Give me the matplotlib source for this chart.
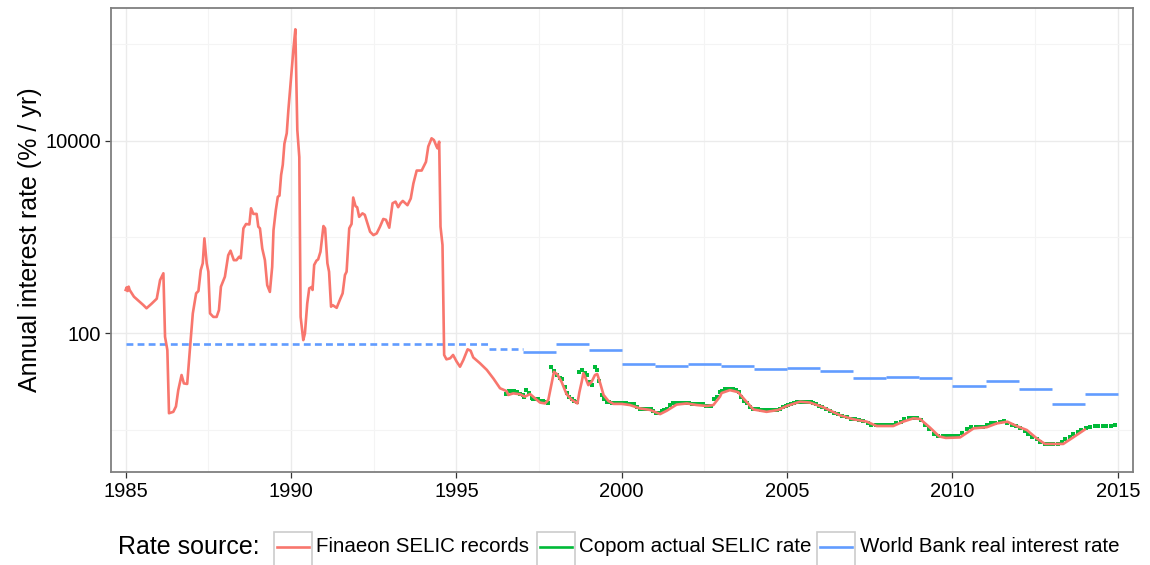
import matplotlib
matplotlib.use("Agg")
import matplotlib.pyplot as plt
from matplotlib.lines import Line2D
from matplotlib.patches import Rectangle
from matplotlib.ticker import FixedLocator, NullFormatter

plt.rcParams['font.family'] = ['Liberation Sans', 'DejaVu Sans']

# Finaeon SELIC records (decimal year, % per year)
finaeon_t = [1985.00, 1985.03, 1985.06, 1985.09, 1985.12, 1985.25, 1985.53, 1985.63, 1985.79, 1985.94,
             1986.04, 1986.14, 1986.19, 1986.26, 1986.31, 1986.44, 1986.52, 1986.59, 1986.69, 1986.76,
             1986.86, 1986.94, 1987.03, 1987.13, 1987.20, 1987.27, 1987.33, 1987.38, 1987.45, 1987.50,
             1987.55, 1987.65, 1987.75, 1987.82, 1987.88, 1988.00, 1988.10, 1988.17, 1988.27, 1988.35,
             1988.43, 1988.48, 1988.56, 1988.64, 1988.74, 1988.79, 1988.86, 1988.96, 1989.01, 1989.06,
             1989.13, 1989.21, 1989.28, 1989.36, 1989.43, 1989.47, 1989.54, 1989.60, 1989.65, 1989.70,
             1989.75, 1989.80, 1989.87, 1989.92, 1990.00, 1990.07, 1990.13, 1990.19, 1990.25, 1990.29,
             1990.37, 1990.42, 1990.49, 1990.55, 1990.62, 1990.65, 1990.70, 1990.77, 1990.82, 1990.89,
             1990.98, 1991.03, 1991.10, 1991.15, 1991.21, 1991.26, 1991.38, 1991.48, 1991.56, 1991.63,
             1991.68, 1991.76, 1991.83, 1991.88, 1991.95, 1992.00, 1992.06, 1992.16, 1992.23, 1992.39,
             1992.49, 1992.59, 1992.69, 1992.79, 1992.87, 1992.97, 1993.07, 1993.16, 1993.24, 1993.31,
             1993.38, 1993.52, 1993.62, 1993.70, 1993.80, 1993.95, 1994.08, 1994.15, 1994.25, 1994.32,
             1994.40, 1994.43, 1994.48, 1994.52, 1994.58, 1994.63, 1994.70, 1994.81, 1994.90, 1995.01,
             1995.11, 1995.21, 1995.34, 1995.43, 1995.51, 1995.71, 1995.92, 1996.12, 1996.32, 1996.52,
             1996.57, 1996.72, 1996.92, 1997.07, 1997.23, 1997.38, 1997.53, 1997.68, 1997.78, 1997.95,
             1998.05, 1998.18, 1998.33, 1998.49, 1998.66, 1998.72, 1998.79, 1998.84, 1998.91, 1998.99,
             1999.09, 1999.19, 1999.26, 1999.35, 1999.45, 1999.60, 1999.75, 2000.00, 2000.25, 2000.55,
             2000.86, 2001.16, 2001.36, 2001.66, 2001.97, 2002.27, 2002.57, 2002.77, 2002.97, 2003.02,
             2003.27, 2003.52, 2003.72, 2003.98, 2004.38, 2004.73, 2004.99, 2005.39, 2005.69, 2006.09,
             2006.60, 2007.00, 2007.41, 2007.71, 2008.21, 2008.51, 2008.82, 2009.02, 2009.32, 2009.60,
             2009.80, 2010.23, 2010.64, 2011.04, 2011.34, 2011.66, 2011.94, 2012.25, 2012.55, 2012.80,
             2013.35, 2013.65, 2014.00]
finaeon_rate = [282, 300, 275, 305, 282, 240, 197, 182, 204, 229,
                357, 420, 92, 67, 14.8, 15.3, 17.4, 25.7, 36.9, 30.2,
                29.8, 67, 161, 260, 275, 454, 533, 968, 533, 436,
                161, 148, 148, 174, 305, 387, 646, 721, 575, 575,
                624, 601, 1230, 1365, 1350, 1986, 1738, 1738, 1280, 1230,
                759, 575, 316, 269, 490, 1175, 1905, 2618, 2690, 4400,
                5620, 9330, 11940, 20900, 44460, 87100, 143600, 12880, 6760, 148,
                85, 100, 204, 293, 302, 282, 513, 569, 586, 703,
                1300, 1230, 533, 436, 189, 196, 184, 224, 260, 403,
                436, 1230, 1365, 2570, 2090, 2040, 1620, 1760, 1700, 1135,
                1047, 1090, 1280, 1540, 1510, 1250, 2240, 2330, 2040, 2240,
                2370, 2140, 2510, 3600, 4900, 4900, 6030, 8710, 10590, 10160,
                8710, 8320, 9770, 1280, 826, 59.6, 53.7, 55, 59.6, 50.7,
                45, 52.8, 68.2, 66, 56.2, 49, 41.7, 33.9, 26.9, 25.1,
                22.9, 23.8, 23.3, 22, 23.4, 21.1, 19.1, 18.7, 20.4, 39.8,
                37.5, 31.4, 23.4, 20.4, 18.7, 24.5, 31.4, 38.5, 34.1, 29,
                31.4, 36.9, 37.8, 30.2, 22.9, 19.8, 18.5, 18.5, 18.0, 16.6,
                16.0, 14.5, 15.7, 18.2, 18.7, 18.0, 17.6, 18.0, 22.0, 24.0,
                25.7, 24.5, 20.4, 16.2, 15.3, 16.0, 17.6, 19.5, 19.1, 17.1,
                14.1, 12.8, 12.1, 10.9, 10.9, 12.1, 13.1, 12.9, 10.5, 8.5,
                8.2, 8.3, 10.3, 10.6, 11.6, 12.1, 10.9, 9.9, 8.1, 7.1,
                7.1, 8.3, 10.0]

# Copom actual SELIC rate at meeting dates (decimal year, % per year)
copom_t = [1996.50, 1996.58, 1996.67, 1996.75, 1996.83, 1996.92, 1997.00, 1997.05, 1997.12, 1997.20,
           1997.28, 1997.32, 1997.40, 1997.47, 1997.55, 1997.62, 1997.70, 1997.77, 1997.85, 1997.95,
           1998.05, 1998.12, 1998.18, 1998.27, 1998.35, 1998.42, 1998.49, 1998.57, 1998.64, 1998.72,
           1998.81, 1998.88, 1998.96, 1999.03, 1999.09, 1999.19, 1999.24, 1999.32, 1999.39, 1999.47,
           1999.54, 1999.62, 1999.70, 1999.78, 1999.87, 1999.95,
           2000.04, 2000.12, 2000.21, 2000.29, 2000.37, 2000.46, 2000.54, 2000.62, 2000.71, 2000.79, 2000.87, 2000.96,
           2001.04, 2001.12, 2001.21, 2001.29, 2001.37, 2001.46, 2001.54, 2001.62, 2001.71, 2001.79, 2001.87, 2001.96,
           2002.04, 2002.12, 2002.21, 2002.29, 2002.37, 2002.46, 2002.54, 2002.62, 2002.71, 2002.79, 2002.87, 2002.96,
           2003.04, 2003.12, 2003.21, 2003.29, 2003.37, 2003.46, 2003.54, 2003.62, 2003.71, 2003.79, 2003.87, 2003.96,
           2004.04, 2004.12, 2004.21, 2004.29, 2004.37, 2004.46, 2004.54, 2004.62, 2004.71, 2004.79, 2004.87, 2004.96,
           2005.04, 2005.12, 2005.21, 2005.29, 2005.37, 2005.46, 2005.54, 2005.62, 2005.71, 2005.79, 2005.87, 2005.96,
           2006.05, 2006.18, 2006.30, 2006.42, 2006.55, 2006.67, 2006.80, 2006.93,
           2007.05, 2007.18, 2007.30, 2007.45, 2007.55, 2007.70, 2007.80, 2007.93,
           2008.05, 2008.18, 2008.30, 2008.45, 2008.55, 2008.70, 2008.80, 2008.93,
           2009.05, 2009.18, 2009.30, 2009.45, 2009.55, 2009.70, 2009.80, 2009.93,
           2010.05, 2010.18, 2010.30, 2010.45, 2010.55, 2010.70, 2010.80, 2010.93,
           2011.05, 2011.18, 2011.30, 2011.45, 2011.55, 2011.65, 2011.80, 2011.93,
           2012.05, 2012.18, 2012.30, 2012.40, 2012.55, 2012.65, 2012.80, 2012.93,
           2013.05, 2013.18, 2013.30, 2013.40, 2013.55, 2013.65, 2013.80, 2013.90,
           2014.05, 2014.15, 2014.30, 2014.40, 2014.55, 2014.65, 2014.80, 2014.93]
copom_rate = [23.4, 25.1, 25.1, 25.0, 24.8, 23.5, 23.0, 21.6, 25.7, 23.8,
              21.5, 20.7, 20.7, 20.7, 20.0, 19.8, 19.2, 18.8, 45.0, 41.0,
              36.9, 34.5, 33.3, 28.0, 23.8, 22.0, 20.7, 20.0, 19.5, 39.4,
              41.6, 38.5, 36.9, 31.0, 29.0, 44.4, 41.6, 32.0, 22.9, 21.0,
              19.5, 19.3, 19.1, 19.0, 19.0, 18.9,
              18.8, 18.8, 18.3, 18.3, 18.3, 17.3, 16.3, 16.3, 16.3, 16.3, 16.3, 15.6,
              15.0, 15.0, 15.5, 16.0, 16.5, 18.0, 18.8, 18.8, 18.8, 18.8, 18.8, 18.8,
              18.8, 18.5, 18.3, 18.3, 18.3, 18.3, 17.8, 17.8, 17.8, 20.8, 21.8, 24.8,
              25.3, 26.3, 26.3, 26.3, 26.3, 25.8, 24.3, 21.8, 19.8, 18.8, 17.3, 16.3,
              16.3, 16.3, 16.0, 15.8, 15.8, 15.8, 15.8, 15.8, 16.0, 16.5, 17.0, 17.5,
              18.0, 18.5, 19.0, 19.3, 19.5, 19.5, 19.5, 19.5, 19.3, 18.8, 18.3, 17.8,
              17.0, 16.3, 15.5, 15.0, 14.5, 14.0, 13.5, 13.0,
              12.8, 12.5, 12.3, 11.8, 11.3, 11.1, 11.1, 11.1,
              11.1, 11.1, 11.6, 12.1, 12.8, 13.3, 13.3, 13.3,
              12.5, 11.1, 10.1, 9.1, 8.5, 8.5, 8.5, 8.5,
              8.5, 8.5, 9.3, 10.1, 10.6, 10.6, 10.6, 10.6,
              11.1, 11.6, 11.8, 12.1, 12.3, 11.8, 11.3, 10.8,
              10.3, 9.6, 8.9, 8.4, 7.9, 7.4, 7.15, 7.15,
              7.15, 7.15, 7.4, 7.9, 8.4, 8.9, 9.4, 9.9,
              10.3, 10.6, 10.8, 10.8, 10.8, 10.8, 10.9, 11.1]

# World Bank real interest rate: annual values; early years are carried-over estimates
wb_year = [1985, 1996, 1997, 1998, 1999, 2000, 2001, 2002, 2003, 2004, 2005, 2006,
           2007, 2008, 2009, 2010, 2011, 2012, 2013, 2014]
wb_end = [1996, 1997, 1998, 1999, 2000, 2001, 2002, 2003, 2004, 2005, 2006, 2007,
          2008, 2009, 2010, 2011, 2012, 2013, 2014, 2015]
wb_rate = [77.4, 68.6, 64.4, 77.0, 66.6, 47.7, 45.4, 48.0, 45.7, 42.9, 44.0, 40.6,
           34.4, 34.9, 34.1, 28.6, 32.2, 26.2, 18.3, 23.3]
wb_estimated = [True, True] + [False] * 18

series_names = ["Finaeon SELIC records", "Copom actual SELIC rate", "World Bank real interest rate"]
series_colors = ["#F8766D", "#00BA38", "#619CFF"]
x_ticks = [1985, 1990, 1995, 2000, 2005, 2010, 2015]
y_ticks = [100, 10000]

W, H = 1150, 565
fig = plt.figure(figsize=(W / 100, H / 100), dpi=100)
ax = fig.add_axes([111 / W, 1 - 472 / H, (1133 - 111) / W, (472 - 8) / H])

ax.set_yscale("log")
ax.set_xlim(1984.556, 2015.46)
ax.set_ylim(10 ** 0.56, 10 ** 5.378)

# gridlines
ax.xaxis.set_major_locator(FixedLocator(x_ticks))
ax.xaxis.set_minor_locator(FixedLocator([1987.5, 1992.5, 1997.5, 2002.5, 2007.5, 2012.5]))
ax.yaxis.set_major_locator(FixedLocator(y_ticks))
ax.yaxis.set_minor_locator(FixedLocator([10, 1000, 100000]))
ax.yaxis.set_minor_formatter(NullFormatter())
ax.set_xticklabels([str(t) for t in x_ticks])
ax.set_yticklabels([str(t) for t in y_ticks])
ax.grid(which="major", color="#EBEBEB", linewidth=1.0)
ax.grid(which="minor", color="#F4F4F4", linewidth=0.8)
ax.set_axisbelow(True)

ax.tick_params(which="major", length=4.3, width=0.9, color="#333333", labelsize=14.5,
               labelcolor="black", pad=3)
ax.tick_params(which="minor", length=0)
for s in ax.spines.values():
    s.set_color("#7F7F7F")
    s.set_linewidth(1.3)

# World Bank annual segments
for y0, y1, v, est in zip(wb_year, wb_end, wb_rate, wb_estimated):
    ax.plot([y0, y1], [v, v], color=series_colors[2], linewidth=1.9,
            linestyle=(0, (2.6, 1.6)) if est else "-", solid_capstyle="butt",
            dash_capstyle="butt", zorder=3)

# Copom decisions
ax.plot(copom_t, copom_rate, linestyle="none", marker="s", markersize=2.4,
        markeredgewidth=0, color=series_colors[1], zorder=3)

# Finaeon monthly records
ax.plot(finaeon_t, finaeon_rate, color=series_colors[0], linewidth=1.9, zorder=4,
        solid_joinstyle="round")

fig.text(30 / W, 1 - 240 / H, "Annual interest rate (% / yr)", rotation=90,
         ha="center", va="center", fontsize=18)

# legend along the bottom
ly = 1 - 547 / H
fig.text(118 / W, ly, "Rate source:", ha="left", va="center", fontsize=18)
key_x = [274, 537, 817]
text_x = [316, 579, 860]
for kx, tx, name, col in zip(key_x, text_x, series_names, series_colors):
    fig.patches.append(Rectangle((kx / W, 1 - 566 / H), 38 / W, 34 / H,
                                 transform=fig.transFigure, facecolor="white",
                                 edgecolor="#CCCCCC", linewidth=1.2))
    fig.lines.append(Line2D([(kx + 3) / W, (kx + 35) / W], [ly, ly],
                            transform=fig.transFigure, color=col, linewidth=1.9))
    fig.text(tx / W, ly, name, ha="left", va="center", fontsize=14.8)

fig.savefig("out.png", dpi=100)
